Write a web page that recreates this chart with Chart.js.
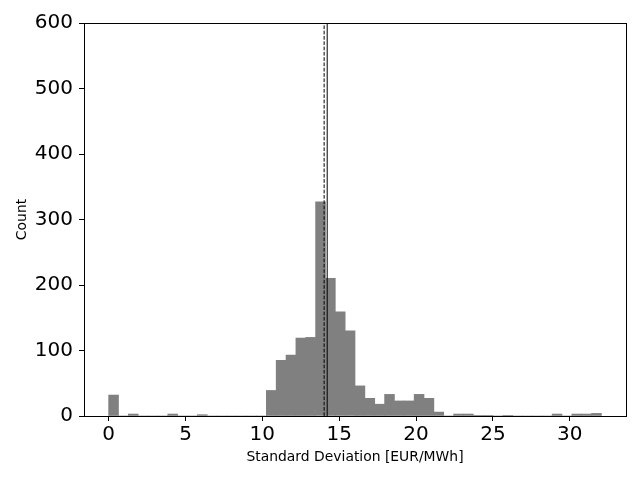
<!DOCTYPE html>
<html>
<head>
<meta charset="utf-8">
<script src="https://cdn.jsdelivr.net/npm/chart.js@4"></script>
<style>
  html, body { margin: 0; padding: 0; background: #fff; }
  #wrap { width: 640px; height: 480px; }
</style>
</head>
<body>
<div id="wrap"><canvas id="chart" width="640" height="480"></canvas></div>
<script>
// histogram: 50 bins from 0 to ~32.06
const binStart = 0;
const binWidth = 0.6412;
const counts = [
    32, 0, 3, 0, 0, 0, 3, 0, 0, 2,
    0, 0, 0, 0, 0, 0, 39, 85, 93, 119,
    120, 327, 210, 159, 130, 46, 27, 18, 33, 23,
    23, 33, 27, 6, 0, 3, 3, 1, 1, 0,
    1, 0, 0, 0, 0, 3, 0, 3, 3, 4
];
// vertical reference lines (median dashed, mean solid)
const medianValue = 14.02;
const meanValue = 14.22;
const xTicks = [0, 5, 10, 15, 20, 25, 30];
const yTicks = [0, 100, 200, 300, 400, 500, 600];

const histData = counts.map((c, i) => ({ x: binStart + binWidth * (i + 0.5), y: c }));

const frame = {
    id: 'frame',
    afterDraw(chart) {
        const a = chart.chartArea;
        const ctx = chart.ctx;
        ctx.save();
        ctx.strokeStyle = '#000';
        ctx.lineWidth = 1;
        ctx.strokeRect(Math.round(a.left) + 0.5, Math.round(a.top) + 0.5,
            Math.round(a.right - a.left), Math.round(a.bottom - a.top));
        ctx.restore();
    }
};

const tickFont = { family: 'DejaVu Sans', size: 20 };
const titleFont = { family: 'DejaVu Sans', size: 13.9 };

new Chart(document.getElementById('chart').getContext('2d'), {
    type: 'bar',
    data: {
        datasets: [{
            type: 'bar',
            data: histData,
            backgroundColor: '#808080',
            borderWidth: 0,
            barPercentage: 1.0,
            categoryPercentage: 1.0,
            grouped: false,
            order: 2
        }, {
            type: 'line',
            data: [{ x: medianValue, y: 0 }, { x: medianValue, y: 600 }],
            borderColor: '#000',
            borderWidth: 1,
            borderDash: [3.7, 1.6],
            pointRadius: 0,
            order: 1
        }, {
            type: 'line',
            data: [{ x: meanValue, y: 0 }, { x: meanValue, y: 600 }],
            borderColor: '#000',
            borderWidth: 1,
            pointRadius: 0,
            order: 1
        }]
    },
    options: {
        responsive: false,
        animation: false,
        layout: { padding: { top: 23, right: 14, left: 0, bottom: 0 } },
        plugins: {
            legend: { display: false },
            tooltip: { enabled: false }
        },
        scales: {
            x: {
                type: 'linear',
                offset: false,
                min: -1.603,
                max: 33.66,
                afterFit(scale) { scale.height = 64; },
                afterBuildTicks(scale) { scale.ticks = xTicks.map(v => ({ value: v })); },
                grid: { offset: false, drawOnChartArea: false, drawTicks: true, tickLength: 5, color: '#000' },
                border: { color: '#000' },
                ticks: { font: tickFont, color: '#000', padding: 2, maxRotation: 0 },
                title: { display: true, text: 'Standard Deviation [EUR/MWh]', font: titleFont, color: '#000', padding: { top: 0, bottom: 14 } }
            },
            y: {
                min: 0,
                max: 600,
                afterFit(scale) { scale.width = 84; },
                afterBuildTicks(scale) { scale.ticks = yTicks.map(v => ({ value: v })); },
                grid: { drawOnChartArea: false, drawTicks: true, tickLength: 5, color: '#000' },
                border: { color: '#000' },
                ticks: { font: tickFont, color: '#000', padding: 6 },
                title: { display: true, text: 'Count', font: titleFont, color: '#000', padding: { top: 14, bottom: 0 } }
            }
        }
    },
    plugins: [frame]
});
</script>
</body>
</html>
